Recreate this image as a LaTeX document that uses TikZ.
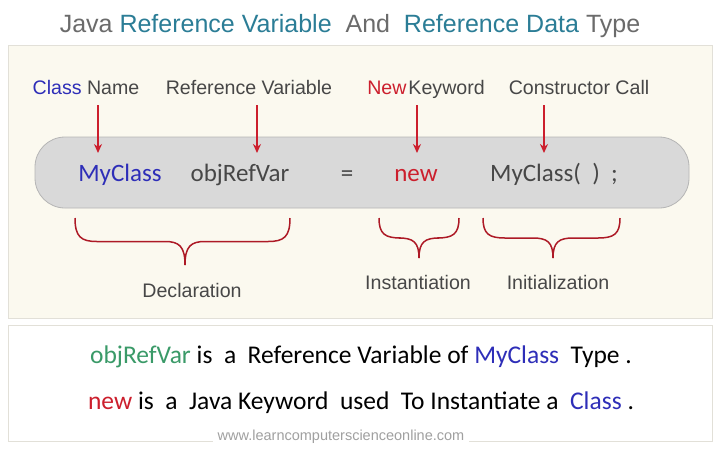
\documentclass[tikz,border=0pt]{standalone}
\usepackage{fontspec}
\setmainfont{Liberation Sans}
\newfontfamily\calfont{Carlito}
\usetikzlibrary{arrows.meta}
\definecolor{cream}{HTML}{FBF9EF}
\definecolor{panelline}{HTML}{E2E0D8}
\definecolor{boxgray}{HTML}{D9D9D9}
\definecolor{boxedge}{HTML}{B5B5B5}
\definecolor{titlegray}{HTML}{6B6B6B}
\definecolor{titleteal}{HTML}{2B7D96}
\definecolor{labgray}{HTML}{474747}
\definecolor{jblue}{HTML}{2E2EB8}
\definecolor{jred}{HTML}{CC1F2D}
\definecolor{jgreen}{HTML}{3A9A68}
\definecolor{wmgray}{HTML}{A0A0A0}
\newcommand\curlybrace[5]{% x1, x2, xm, ytop, height
  \draw[bracestyle] (#1,#4) .. controls (#1,#4+0.4*#5) and (#1+6,#4+0.5*#5) .. (#1+22,#4+0.5*#5)
    -- (#3-20,#4+0.5*#5) .. controls (#3-6,#4+0.5*#5) and (#3,#4+0.6*#5) .. (#3,#4+#5);
  \draw[bracestyle] (#2,#4) .. controls (#2,#4+0.4*#5) and (#2-6,#4+0.5*#5) .. (#2-22,#4+0.5*#5)
    -- (#3+20,#4+0.5*#5) .. controls (#3+6,#4+0.5*#5) and (#3,#4+0.6*#5) .. (#3,#4+#5);
}
\begin{document}
\begin{tikzpicture}[x=1pt,y=-1pt,
  titlefont/.style={font=\fontsize{25}{30}\selectfont},
  labelfont/.style={font=\fontsize{19.6}{23}\selectfont, text=labgray, anchor=base, inner sep=0pt},
  codefont/.style={font=\calfont\fontsize{25}{30}\selectfont, anchor=base, inner sep=0pt},
  sentfont/.style={font=\calfont\fontsize{25.5}{30}\selectfont, anchor=base, inner sep=0pt},
  redarrow/.style={draw=jred, line width=1.6pt, -{Stealth[length=9pt,width=8pt]}},
  bracestyle/.style={draw=jred!85!black, line width=1.5pt},
  ]
\useasboundingbox (0,0) rectangle (720,451);
\fill[white] (0,0) rectangle (720,451);

% title
\node[titlefont, anchor=base, inner sep=0pt] (title) at (350,32) {\color{titlegray}Java \color{titleteal}Reference Variable\ \ \color{titlegray}And\ \ \color{titleteal}Reference Data \color{titlegray}Type};

% panels
\draw[draw=panelline, fill=cream, line width=1pt] (8,45) rectangle (712,318);
\draw[draw=panelline, fill=white, line width=1pt] (8,325) rectangle (712,441);

% code box
\draw[draw=boxedge, fill=boxgray, line width=0.8pt, rounded corners=30pt] (35,137) rectangle (689,208);

% top labels
\node[labelfont] (lclass) at (86,94) {\color{jblue}Class \color{labgray}Name};
\node[labelfont] (lref) at (249,94) {Reference Variable};
\node[labelfont] (lnew) at (426,94) {\color{jred}New\hspace{2pt}\color{labgray}Keyword};
\node[labelfont] (lcons) at (579,94) {Constructor Call};

% code line
\node[codefont, text=jblue] (cmy) at (120,181) {MyClass};
\node[codefont, text=labgray] (cobj) at (240,181) {objRefVar};
\node[codefont, text=labgray] (ceq) at (347,181) {=};
\node[codefont, text=jred] (cnew) at (416,181) {new};
\node[codefont, text=labgray] (ccall) at (554,181) {MyClass(\ \ )\ \ ;};

% arrows
\coordinate (a1s) at (98,105);  \coordinate (a1e) at (98,153);
\coordinate (a2s) at (257,105); \coordinate (a2e) at (257,153);
\coordinate (a3s) at (417,105); \coordinate (a3e) at (417,153);
\coordinate (a4s) at (544,105); \coordinate (a4e) at (544,153);
\draw[redarrow] (a1s) -- (a1e);
\draw[redarrow] (a2s) -- (a2e);
\draw[redarrow] (a3s) -- (a3e);
\draw[redarrow] (a4s) -- (a4e);

% braces
\curlybrace{75}{290}{185}{218}{47}
\curlybrace{379}{459}{419}{218}{40}
\curlybrace{483}{620}{553}{218}{40}

\node[labelfont] (ldecl) at (192,297) {Declaration};
\node[labelfont] (linst) at (418,289) {Instantiation};
\node[labelfont] (linit) at (558,289) {Initialization};

% sentences
\node[sentfont] (s1) at (361,363) {\color{jgreen}objRefVar \color{black}is\ \ a\ \ Reference Variable of \color{jblue}MyClass\ \ \color{black}Type .};
\node[sentfont] (s2) at (361,409) {\color{jred}new \color{black}is\ \ a\ \ Java Keyword\ \ used\ \ To Instantiate a\ \ \color{jblue}Class\color{black}\ .};

% watermark
\node[fill=white, text=wmgray, font=\fontsize{14.5}{17}\selectfont, inner xsep=5pt, inner ysep=1pt] (wm) at (341,437) {www.learncomputerscienceonline.com};
\end{tikzpicture}
\end{document}
